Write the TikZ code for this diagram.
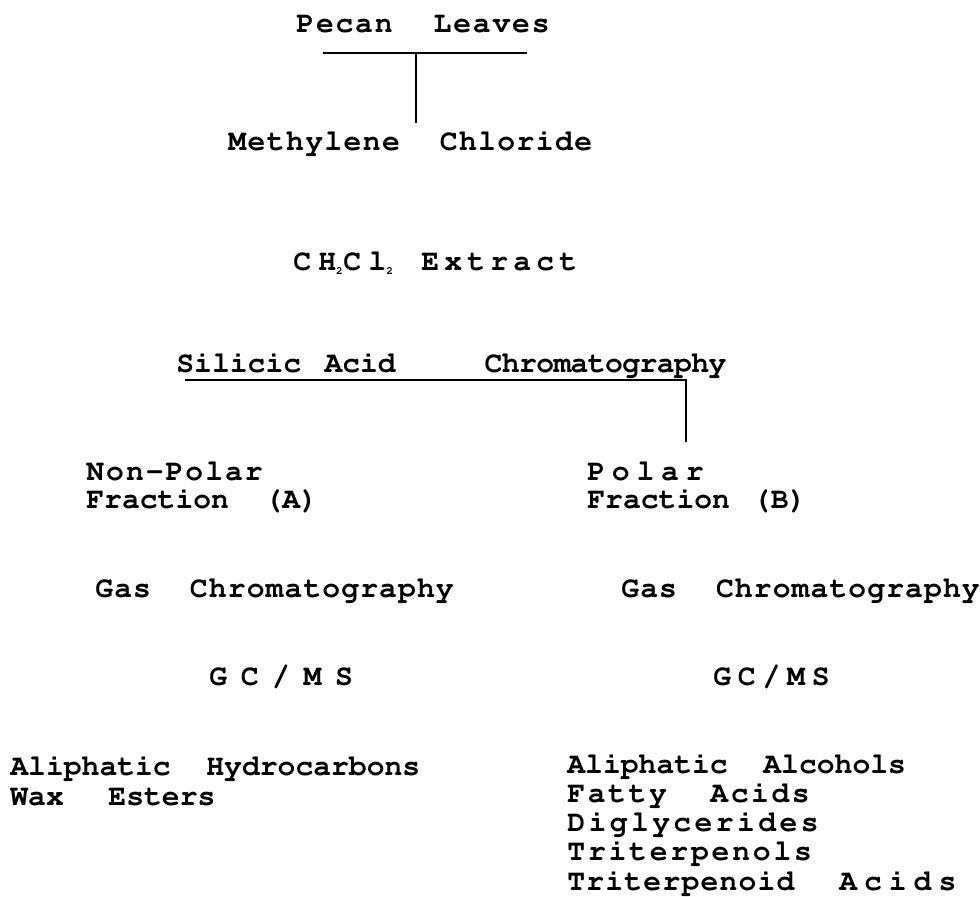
\documentclass[tikz,border=0pt]{standalone}
\usepackage[T1]{fontenc}
% Courier bold, letter spaced text
\newcommand{\diagfont}{\fontencoding{T1}\fontfamily{pcr}\fontseries{b}\selectfont}
\makeatletter
\newcommand{\ls}[2]{\@tfor\ls@ch:=#2\do{\ls@ch\hspace{#1}}}
\makeatother
\newcommand{\subtwo}{\rlap{\raisebox{-2.2pt}{\fontsize{5.5}{5.5}\selectfont 2}}}
\tikzset{
    txt/.style={anchor=base west, inner sep=0pt, align=left,
        font=\diagfont\fontsize{14.85}{14.5}\selectfont},
    rule/.style={line width=1pt}
}
\begin{document}
\begin{tikzpicture}[x=0.5pt,y=-0.5pt]
    \useasboundingbox (0,0) rectangle (980,896);

    % Extraction
    \node[txt] (leaves) at (296,32) {\ls{0.9pt}{Pecan~~Leaves}};
    \node[txt] (solvent) at (228,150) {\ls{0.7pt}{Methylene~~Chloride}};
    \node[txt] (extract) at (293,270)
        {C\hspace{3.6pt}H\subtwo\hspace{3.6pt}C\hspace{3.6pt}l\subtwo\hspace{17.5pt}\ls{2.6pt}{Extract}};

    % Separation
    \node[txt] (silicic) at (176,372) {Silicic\hspace{11.7pt}Acid\hspace{44.4pt}\ls{-0.3pt}{Chromatography}};

    % Fractions (anchored at the last line)
    \node[txt, font=\diagfont\fontsize{14.85}{14}\selectfont] (fracA) at (86,508)
        {\ls{1pt}{Non-Polar}\\Fraction~~(A)};
    \node[txt, font=\diagfont\fontsize{14.85}{14}\selectfont] (fracB) at (587,508)
        {\ls{3.4pt}{Polar}\\Fraction~\hspace{2.6pt}(B)};

    % Analysis
    \node[txt] (gasA) at (95,597) {\ls{0.55pt}{Gas~~Chromatography}};
    \node[txt] (gasB) at (621,597) {\ls{0.55pt}{Gas~~Chromatography}};
    \node[txt] (msA) at (209,685) {\ls{6.8pt}{GC/MS}};
    \node[txt] (msB) at (713,685) {\ls{3.4pt}{GC/MS}};

    % Compounds
    \node[txt, font=\diagfont\fontsize{14.85}{15}\selectfont] (prodA) at (10,805)
        {Aliphatic~~Hydrocarbons\\Wax~~\hspace{4.5pt}Esters};
    \node[txt, font=\diagfont\fontsize{14.85}{14.6}\selectfont] (prodB) at (567,890)
        {Aliphatic~~Alcohols\\\ls{1.3pt}{Fatty~~Acids}\\\ls{1.7pt}{Diglycerides}\\
         \ls{1.4pt}{Triterpenols}\\\ls{0.6pt}{Triterpenoid}~~\hspace{4pt}\ls{3.5pt}{Acids}};

    % Rules
    \coordinate (topL) at (323,53);
    \coordinate (topR) at (527,53);
    \coordinate (topM) at (416,53);
    \coordinate (topS) at (416,123);
    \draw[rule] (topL) -- (topR);
    \draw[rule] (topM) -- (topS);

    \coordinate (midL) at (185,380);
    \coordinate (midR) at (686,380);
    \coordinate (midS) at (686,442);
    \draw[rule] (midL) -- (midR) -- (midS);
\end{tikzpicture}
\end{document}
